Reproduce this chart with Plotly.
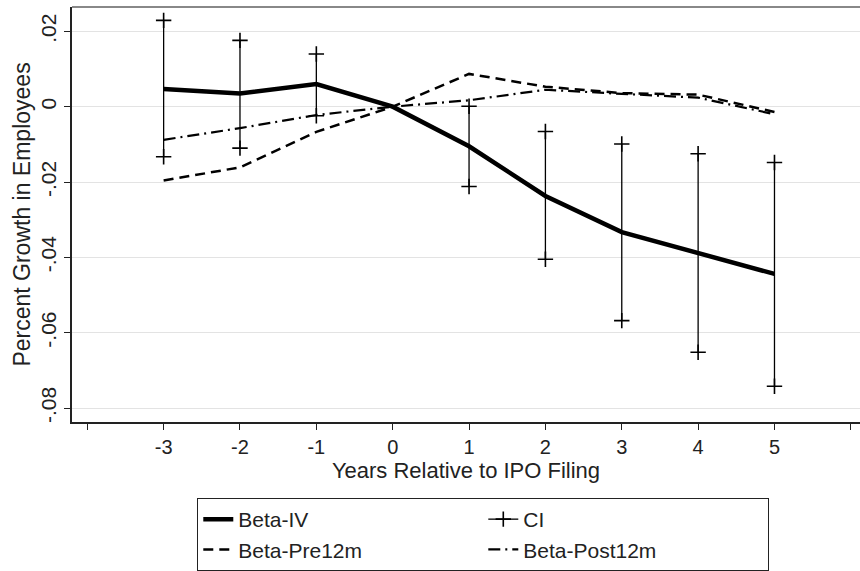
import plotly.graph_objects as go

years = [-3, -2, -1, 0, 1, 2, 3, 4, 5]
beta_iv = [0.0047, 0.0035, 0.0060, 0.0, -0.0105, -0.0237, -0.0333, -0.0390, -0.0444]
ci_upper = [0.0229, 0.0176, 0.0140, None, 0.0001, -0.0066, -0.0099, -0.0125, -0.0148]
ci_lower = [-0.0133, -0.0110, -0.0024, None, -0.0212, -0.0405, -0.0568, -0.0652, -0.0742]
beta_pre12m = [-0.0196, -0.0161, -0.0067, 0.0, 0.0087, 0.0053, 0.0036, 0.0032, -0.0014]
beta_post12m = [-0.0088, -0.0057, -0.0022, 0.0, 0.0017, 0.0045, 0.0034, 0.0024, -0.0020]

x_tickvals = [-4, -3, -2, -1, 0, 1, 2, 3, 4, 5, 6]
x_ticktext = ["", "-3", "-2", "-1", "0", "1", "2", "3", "4", "5", ""]
y_tickvals = [0.02, 0.0, -0.02, -0.04, -0.06, -0.08]
y_ticktext = [".02", "0", "-.02", "-.04", "-.06", "-.08"]

FONT = "Liberation Sans, Arial, sans-serif"
TXT = "#222"

# CI segments built from the data arrays
ci_x, ci_y = [], []
for x, lo, hi in zip(years, ci_lower, ci_upper):
    if lo is None or hi is None:
        continue
    ci_x += [x, x, None]
    ci_y += [lo, hi, None]

fig = go.Figure()
fig.add_trace(go.Scatter(
    x=years, y=beta_iv, mode="lines", name="Beta-IV",
    line=dict(color="black", width=4.5)))
fig.add_trace(go.Scatter(
    x=ci_x, y=ci_y, mode="lines+markers", name="CI",
    line=dict(color="black", width=1.3),
    marker=dict(symbol="cross-thin", size=11, color="black",
                line=dict(color="black", width=1.6))))
fig.add_trace(go.Scatter(
    x=years, y=beta_pre12m, mode="lines", name="Beta-Pre12m",
    line=dict(color="black", width=2.5, dash="10px,6px")))
fig.add_trace(go.Scatter(
    x=years, y=beta_post12m, mode="lines", name="Beta-Post12m",
    line=dict(color="black", width=2.2, dash="12px,5px,2px,5px")))

fig.update_layout(
    width=860, height=571,
    margin=dict(l=72, r=0, t=7, b=148),
    paper_bgcolor="white", plot_bgcolor="white",
    font=dict(family=FONT, size=21, color=TXT),
    showlegend=True,
    legend=dict(
        orientation="h", x=0.159, y=-0.183, xanchor="left", yanchor="top",
        bordercolor=TXT, borderwidth=1, font=dict(size=21, color=TXT),
        entrywidth=240, entrywidthmode="pixels", traceorder="normal",
    ),
    xaxis=dict(
        range=[-4.2, 6.12], tickmode="array", tickvals=x_tickvals, ticktext=x_ticktext,
        showgrid=False, zeroline=False, showline=True, linecolor=TXT, linewidth=1.5,
        ticks="outside", ticklen=6, tickwidth=1.2, tickcolor=TXT,
        tickfont=dict(size=20, color=TXT),
        title=dict(text="Years Relative to IPO Filing", font=dict(size=22, color=TXT), standoff=0),
    ),
    yaxis=dict(
        range=[-0.0837, 0.02646], tickmode="array", tickvals=y_tickvals, ticktext=y_ticktext,
        showgrid=True, gridcolor="#e3e3e3", gridwidth=1.2, zeroline=False,
        showline=True, linecolor=TXT, linewidth=1.5,
        ticks="outside", ticklen=6, tickwidth=1.2, tickcolor=TXT,
        tickangle=-90, tickfont=dict(size=21, color=TXT),
        title=dict(text="Percent Growth in Employees", font=dict(size=23, color=TXT), standoff=0),
    ),
    shapes=[dict(type="line", xref="paper", yref="paper", x0=0, x1=1, y0=1, y1=1,
                 line=dict(color="#888", width=2))],
)

fig.write_html("out.html")
